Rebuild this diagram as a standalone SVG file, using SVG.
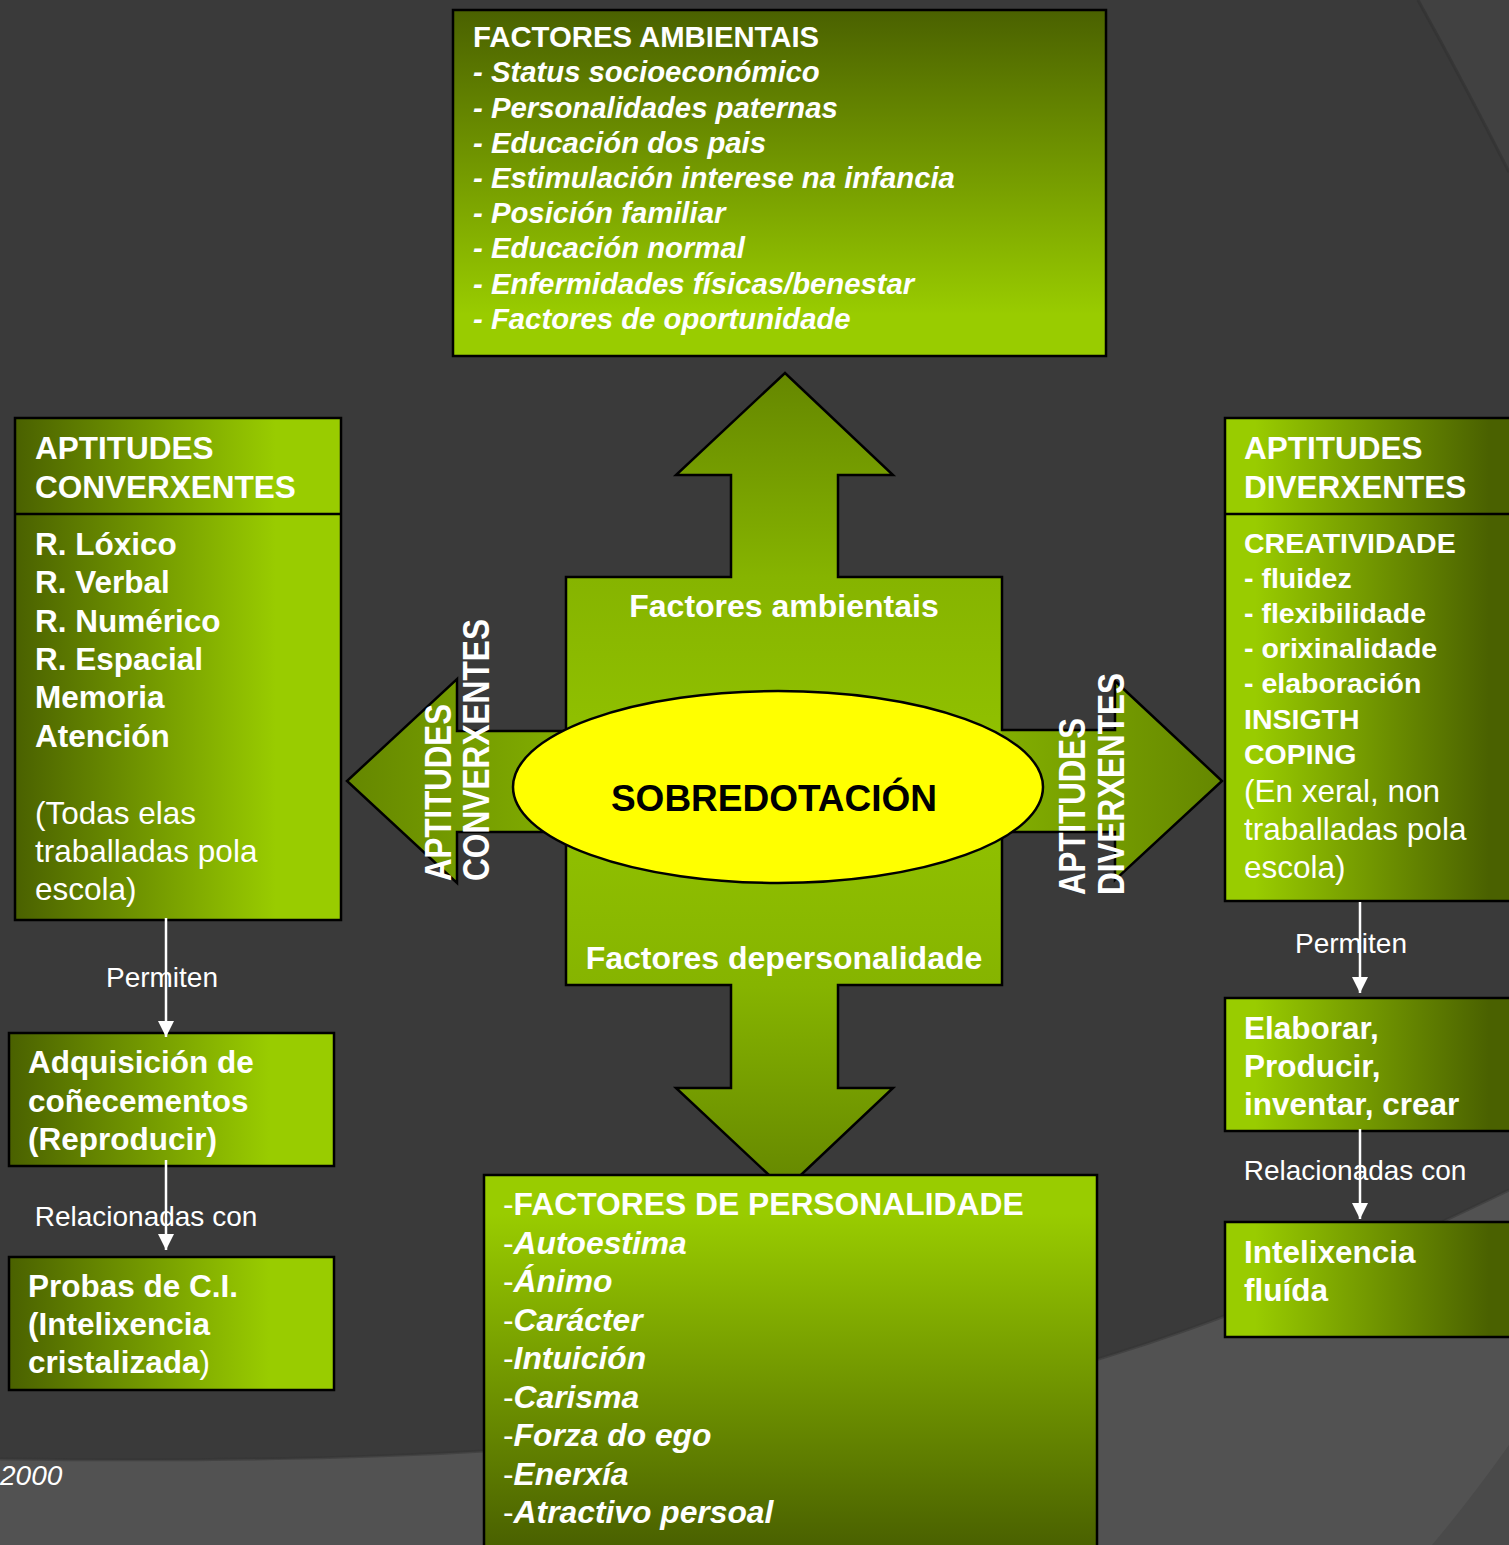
<svg xmlns="http://www.w3.org/2000/svg" width="1509" height="1545" viewBox="0 0 1509 1545">
<defs>
<style>
.t{font-family:"Liberation Sans",Arial,Helvetica,sans-serif;fill:#ffffff}
.b{font-weight:bold}
.i{font-style:italic}
.n{font-weight:normal;font-style:normal}
.s29{font-size:29.3px}
.s28{font-size:28px}
.s28b{font-size:28.5px}
.s31{font-size:31.5px}
.s31p{font-size:31.8px}
.s32{font-size:32px}
.rot{font-family:"Liberation Sans",Arial,Helvetica,sans-serif;font-weight:bold;font-size:36px;fill:#ffffff}
.box{stroke:#000000;stroke-width:2.5}
.conn{stroke:#ffffff;stroke-width:2.5;fill:none}
</style>
<linearGradient id="gL" x1="0" y1="0" x2="1" y2="0">
<stop offset="0" stop-color="#4a6100"/>
<stop offset="0.8" stop-color="#99cc00"/>
<stop offset="1" stop-color="#99cc00"/>
</linearGradient>
<linearGradient id="gR" x1="0" y1="0" x2="1" y2="0">
<stop offset="0" stop-color="#99cc00"/>
<stop offset="0.1" stop-color="#99cc00"/>
<stop offset="0.88" stop-color="#4a6100"/>
<stop offset="1" stop-color="#4a6100"/>
</linearGradient>
<linearGradient id="gT" x1="0" y1="0" x2="0" y2="1">
<stop offset="0" stop-color="#4a6100"/>
<stop offset="0.88" stop-color="#99cc00"/>
<stop offset="1" stop-color="#99cc00"/>
</linearGradient>
<linearGradient id="gP" x1="0" y1="0" x2="0" y2="1">
<stop offset="0" stop-color="#99cc00"/>
<stop offset="0.1" stop-color="#99cc00"/>
<stop offset="0.95" stop-color="#4a6100"/>
<stop offset="1" stop-color="#4a6100"/>
</linearGradient>
<linearGradient id="gH" gradientUnits="userSpaceOnUse" x1="347" y1="0" x2="1222" y2="0">
<stop offset="0" stop-color="#658700"/>
<stop offset="0.25" stop-color="#82ae00"/>
<stop offset="0.5" stop-color="#8fbf00"/>
<stop offset="0.75" stop-color="#82ae00"/>
<stop offset="1" stop-color="#658700"/>
</linearGradient>
<linearGradient id="gV" gradientUnits="userSpaceOnUse" x1="0" y1="373" x2="0" y2="1190">
<stop offset="0" stop-color="#658700"/>
<stop offset="0.25" stop-color="#86b400"/>
<stop offset="0.5" stop-color="#93c400"/>
<stop offset="0.75" stop-color="#86b400"/>
<stop offset="1" stop-color="#658700"/>
</linearGradient>
<clipPath id="cross">
<path id="crossPath" d="M566 577 L731 577 L731 475 L676 475 L785 373 L893 475 L838 475 L838 577 L1002 577 L1002 730 L1115 730 L1115 681 L1222 781 L1115 880 L1115 832 L1002 832 L1002 985 L838 985 L838 1088 L893 1088 L785 1190 L676 1088 L731 1088 L731 985 L566 985 L566 832 L457 832 L457 883 L347 781 L457 679 L457 731 L566 731 Z"/>
</clipPath>
<marker id="ah" markerUnits="userSpaceOnUse" markerWidth="16" markerHeight="16" viewBox="0 0 16 16" refX="16" refY="8" orient="auto">
<path d="M0 0 L16 8 L0 16 Z" fill="#ffffff"/>
</marker>
</defs>

<g id="background">
<rect x="0" y="0" width="1509" height="1545" fill="#3a3a3a"/>
<path d="M1418 0 Q1465 85 1509 172 L1509 0 Z" fill="#414141"/>
<path d="M1418 0 Q1465 85 1509 172" fill="none" stroke="#303030" stroke-width="3" opacity="0.6"/>
<path d="M0 1459 C250 1462 500 1460 800 1422 C1100 1384 1300 1290 1509 1190 L1509 1545 L0 1545 Z" fill="#525252"/>
<path d="M0 1459 C250 1462 500 1460 800 1422 C1100 1384 1300 1290 1509 1190" fill="none" stroke="#333333" stroke-width="3" opacity="0.5"/>
<path d="M1509 1445 Q1470 1500 1432 1545 L1509 1545 Z" fill="#4a4a4a"/>
</g>

<g id="central-arrows">
<g clip-path="url(#cross)">
<rect x="340" y="670" width="890" height="220" fill="url(#gH)"/>
<path d="M676 370 L893 370 L893 577 L1002 577 L1002 985 L893 985 L893 1195 L676 1195 L676 985 L566 985 L566 577 L676 577 Z" fill="url(#gV)"/>
</g>
<use href="#crossPath" fill="none" stroke="#000000" stroke-width="2.5"/>
<text class="t b s32" x="784" y="617" text-anchor="middle">Factores ambientais</text>
<text class="t b s32" x="784" y="969" text-anchor="middle">Factores depersonalidade</text>
<text class="rot" transform="translate(451 881) rotate(-90)" textLength="177" lengthAdjust="spacingAndGlyphs">APTITUDES</text>
<text class="rot" transform="translate(489 881) rotate(-90)" textLength="262" lengthAdjust="spacingAndGlyphs">CONVERXENTES</text>
<text class="rot" transform="translate(1085 895) rotate(-90)" textLength="177" lengthAdjust="spacingAndGlyphs">APTITUDES</text>
<text class="rot" transform="translate(1124 895) rotate(-90)" textLength="222" lengthAdjust="spacingAndGlyphs">DIVERXENTES</text>
</g>

<g id="node-sobredotacion">
<ellipse cx="778" cy="787" rx="265" ry="96" fill="#ffff00" stroke="#000000" stroke-width="2.5"/>
<text x="774" y="811" text-anchor="middle" font-family="Liberation Sans, Arial, sans-serif" font-weight="bold" font-size="37" fill="#000000">SOBREDOTACIÓN</text>
</g>

<g id="node-factores-ambientais">
<rect class="box" x="453" y="10" width="653" height="346" fill="url(#gT)"/>
<text class="t b s29" x="473" y="47">FACTORES AMBIENTAIS</text>
<text class="t b i s29" x="473" y="82">- Status socioeconómico</text>
<text class="t b i s29" x="473" y="118">- Personalidades paternas</text>
<text class="t b i s29" x="473" y="153">- Educación dos pais</text>
<text class="t b i s29" x="473" y="188">- Estimulación interese na infancia</text>
<text class="t b i s29" x="473" y="223">- Posición familiar</text>
<text class="t b i s29" x="473" y="258">- Educación normal</text>
<text class="t b i s29" x="473" y="294">- Enfermidades físicas/benestar</text>
<text class="t b i s29" x="473" y="329">- Factores de oportunidade</text>
</g>

<g id="node-factores-personalidade">
<rect class="box" x="484" y="1175" width="613" height="390" fill="url(#gP)"/>
<text class="t b s31p" x="503" y="1215"><tspan class="n">-</tspan>FACTORES DE PERSONALIDADE</text>
<text class="t b i s31p" x="503" y="1254"><tspan class="n">-</tspan>Autoestima</text>
<text class="t b i s31p" x="503" y="1292"><tspan class="n">-</tspan>Ánimo</text>
<text class="t b i s31p" x="503" y="1331"><tspan class="n">-</tspan>Carácter</text>
<text class="t b i s31p" x="503" y="1369"><tspan class="n">-</tspan>Intuición</text>
<text class="t b i s31p" x="503" y="1408"><tspan class="n">-</tspan>Carisma</text>
<text class="t b i s31p" x="503" y="1446"><tspan class="n">-</tspan>Forza do ego</text>
<text class="t b i s31p" x="503" y="1485"><tspan class="n">-</tspan>Enerxía</text>
<text class="t b i s31p" x="503" y="1523"><tspan class="n">-</tspan>Atractivo persoal</text>
</g>

<g id="node-aptitudes-converxentes">
<rect class="box" x="15" y="418" width="326" height="502" fill="url(#gL)"/>
<line x1="15" y1="514" x2="341" y2="514" stroke="#000000" stroke-width="2.5"/>
<text class="t b s31" x="35" y="459">APTITUDES</text>
<text class="t b s31" x="35" y="498">CONVERXENTES</text>
<text class="t b s31" x="35" y="555">R. Lóxico</text>
<text class="t b s31" x="35" y="593">R. Verbal</text>
<text class="t b s31" x="35" y="632">R. Numérico</text>
<text class="t b s31" x="35" y="670">R. Espacial</text>
<text class="t b s31" x="35" y="708">Memoria</text>
<text class="t b s31" x="35" y="747">Atención</text>
<text class="t s31" x="35" y="824">(Todas elas</text>
<text class="t s31" x="35" y="862">traballadas pola</text>
<text class="t s31" x="35" y="900">escola)</text>
</g>

<g id="node-adquisicion">
<rect class="box" x="9" y="1033" width="325" height="133" fill="url(#gL)"/>
<text class="t b s31" x="28" y="1073">Adquisición de</text>
<text class="t b s31" x="28" y="1112">coñecementos</text>
<text class="t b s31" x="28" y="1150">(Reproducir)</text>
</g>

<g id="node-probas-ci">
<rect class="box" x="9" y="1257" width="325" height="133" fill="url(#gL)"/>
<text class="t b s31" x="28" y="1297">Probas de C.I.</text>
<text class="t b s31" x="28" y="1335">(Intelixencia</text>
<text class="t b s31" x="28" y="1373">cristalizada<tspan class="n">)</tspan></text>
</g>

<g id="node-aptitudes-diverxentes">
<rect class="box" x="1225" y="418" width="300" height="483" fill="url(#gR)"/>
<line x1="1225" y1="514" x2="1525" y2="514" stroke="#000000" stroke-width="2.5"/>
<text class="t b s31" x="1244" y="459">APTITUDES</text>
<text class="t b s31" x="1244" y="498">DIVERXENTES</text>
<text class="t b s28b" x="1244" y="553">CREATIVIDADE</text>
<text class="t b s28b" x="1244" y="588">- fluidez</text>
<text class="t b s28b" x="1244" y="623">- flexibilidade</text>
<text class="t b s28b" x="1244" y="658">- orixinalidade</text>
<text class="t b s28b" x="1244" y="693">- elaboración</text>
<text class="t b s28b" x="1244" y="729">INSIGTH</text>
<text class="t b s28b" x="1244" y="764">COPING</text>
<text class="t s31" x="1244" y="802">(En xeral, non</text>
<text class="t s31" x="1244" y="840">traballadas pola</text>
<text class="t s31" x="1244" y="878">escola)</text>
</g>

<g id="node-elaborar">
<rect class="box" x="1225" y="998" width="300" height="133" fill="url(#gR)"/>
<text class="t b s31" x="1244" y="1039">Elaborar,</text>
<text class="t b s31" x="1244" y="1077">Producir,</text>
<text class="t b s31" x="1244" y="1115">inventar, crear</text>
</g>

<g id="node-intelixencia-fluida">
<rect class="box" x="1225" y="1222" width="300" height="115" fill="url(#gR)"/>
<text class="t b s31" x="1244" y="1263">Intelixencia</text>
<text class="t b s31" x="1244" y="1301">fluída</text>
</g>

<g id="connectors">
<line class="conn" x1="166" y1="918" x2="166" y2="1037" marker-end="url(#ah)"/>
<text class="t s28" x="162" y="987" text-anchor="middle">Permiten</text>
<line class="conn" x1="166" y1="1160" x2="166" y2="1250" marker-end="url(#ah)"/>
<text class="t s28" x="146" y="1226" text-anchor="middle">Relacionadas con</text>
<line class="conn" x1="1360" y1="902" x2="1360" y2="993" marker-end="url(#ah)"/>
<text class="t s28" x="1351" y="953" text-anchor="middle">Permiten</text>
<line class="conn" x1="1360" y1="1129" x2="1360" y2="1219" marker-end="url(#ah)"/>
<text class="t s28" x="1355" y="1180" text-anchor="middle">Relacionadas con</text>
</g>

<text class="t i s28" x="0" y="1485" fill="#eeeeee">2000</text>
</svg>
